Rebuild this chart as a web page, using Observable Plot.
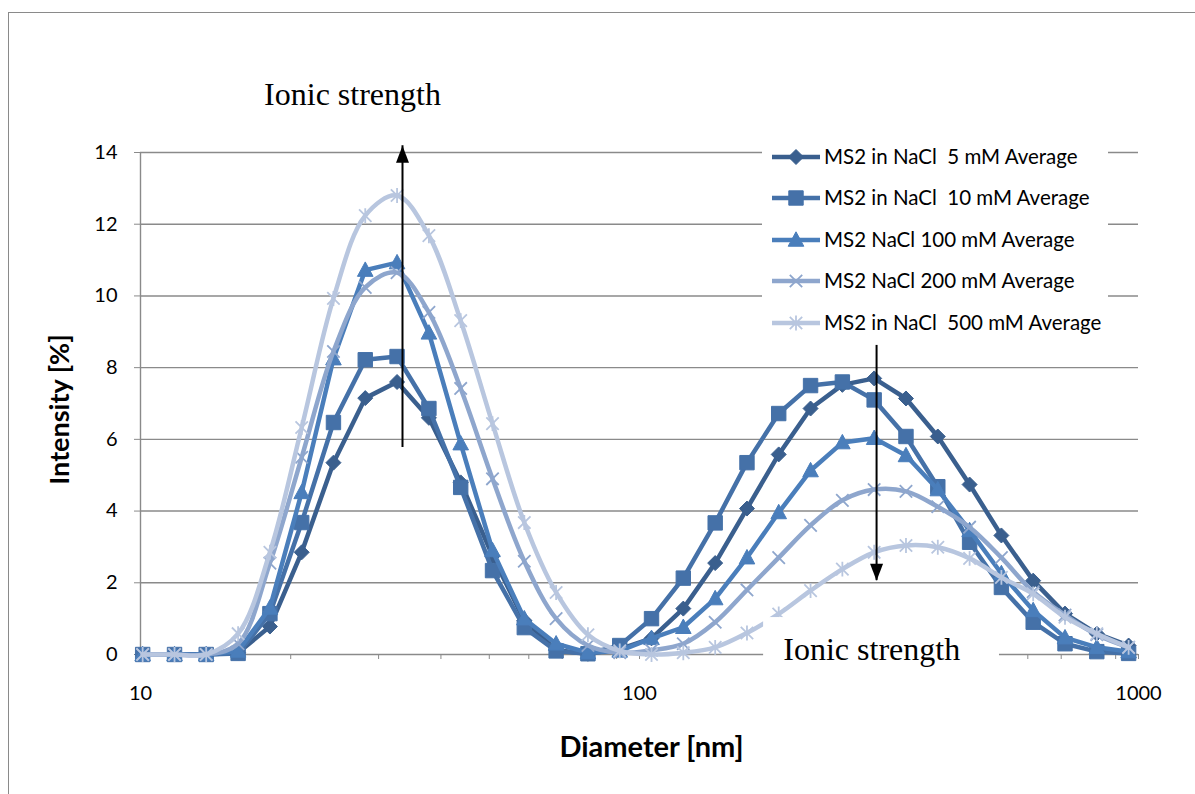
<!DOCTYPE html>
<html>
<head>
<meta charset="utf-8">
<script src="https://cdn.jsdelivr.net/npm/d3@7"></script>
<script src="https://cdn.jsdelivr.net/npm/@observablehq/plot@0.6"></script>
<style>
  body { margin: 0; background: #fff; overflow: hidden; }
  #wrap { position: relative; width: 1195px; height: 794px; overflow: hidden; font-family: Lato, sans-serif; }
  #wrap > svg { position: absolute; left: 0; top: 0; }
  #frame { position: absolute; left: 8px; top: 12px; width: 1300px; height: 900px; border: 1.5px solid #8a8a8a; box-sizing: border-box; pointer-events: none; }
  #legend { position: absolute; left: 762px; top: 138px; width: 346px; height: 206px; background: #fff; }
</style>
</head>
<body>
<div id="wrap"></div>
<script>
// DLS size classes (nm) and averaged intensity distributions (%)
const diameters = [10.1, 11.7, 13.54, 15.69, 18.17, 21.04, 24.36, 28.21, 32.67, 37.84, 43.82, 50.75,
  58.77, 68.06, 78.82, 91.28, 105.7, 122.4, 141.8, 164.2, 190.1, 220.2, 255.0, 295.3, 342.0,
  396.1, 458.7, 531.2, 615.1, 712.4, 825.0, 955.4];

const nacl5 = [0, 0, 0, 0.05, 0.78, 2.85, 5.35, 7.15, 7.6, 6.6, 4.8, 2.75, 0.95, 0.12, 0.02, 0.15,
  0.45, 1.28, 2.55, 4.07, 5.58, 6.86, 7.52, 7.7, 7.14, 6.08, 4.74, 3.32, 2.06, 1.14, 0.58, 0.25];
const nacl10 = [0, 0, 0, 0.03, 1.14, 3.68, 6.47, 8.22, 8.31, 6.86, 4.66, 2.34, 0.75, 0.1, 0.02, 0.25,
  1.0, 2.13, 3.67, 5.35, 6.72, 7.5, 7.6, 7.1, 6.08, 4.68, 3.13, 1.87, 0.9, 0.3, 0.08, 0.03];
const nacl100 = [0, 0, 0, 0.1, 1.3, 4.52, 8.25, 10.72, 10.93, 8.97, 5.88, 2.9, 1.0, 0.3, 0.05, 0.1,
  0.45, 0.76, 1.56, 2.7, 3.96, 5.13, 5.91, 6.03, 5.55, 4.6, 3.46, 2.26, 1.23, 0.47, 0.2, 0.08];
const nacl200 = [0, 0, 0, 0.3, 2.55, 5.5, 8.45, 10.24, 10.65, 9.54, 7.42, 4.9, 2.6, 1.0, 0.25, 0.05,
  0.12, 0.3, 0.9, 1.8, 2.7, 3.6, 4.3, 4.6, 4.55, 4.12, 3.55, 2.7, 1.75, 1.1, 0.55, 0.2];
const nacl500 = [0, 0, 0, 0.58, 2.85, 6.33, 9.93, 12.24, 12.8, 11.68, 9.31, 6.44, 3.68, 1.73, 0.55, 0.1,
  0.0, 0.05, 0.2, 0.6, 1.13, 1.78, 2.38, 2.85, 3.04, 2.99, 2.68, 2.15, 1.69, 1.04, 0.58, 0.2];

const seriesNames = [
  "MS2 in NaCl\u00a0 5 mM Average",
  "MS2 in NaCl\u00a0 10 mM Average",
  "MS2 NaCl 100 mM Average",
  "MS2 NaCl 200 mM Average",
  "MS2 in NaCl\u00a0 500 mM Average"
];
const seriesColors = ["#3a5f8e", "#4571a8", "#4a7ebb", "#8ea6cd", "#b8c6df"];

const yTicks = [0, 2, 4, 6, 8, 10, 12, 14];
const xLabels = [10, 100, 1000];
const xMinorTicks = [10, 20, 30, 40, 50, 60, 70, 80, 90, 100, 200, 300, 400, 500, 600, 700, 800, 900, 1000];

// annotation arrows (data units) and their captions
const arrows = [
  {x: 33.5, from: 5.77, to: 14.19, dir: "up"},
  {x: 298.6, from: 8.62, to: 2.06, dir: "down"}
];
const captions = [
  {x: 26.6, y: 15.62, label: "Ionic strength"},
  {x: 292, y: 0.14, label: "Ionic strength"}
];
const captionBox = {x1: 177.3, x2: 526.5, y1: 1.03, y2: -1.0};

// marker shapes (size arrives as pi*r^2 from Plot.dot)
const rad = size => Math.sqrt(size / Math.PI);
const symDiamond = {draw(c, s) { const r = rad(s); c.moveTo(0, -r); c.lineTo(r, 0); c.lineTo(0, r); c.lineTo(-r, 0); c.closePath(); }};
const symSquare = {draw(c, s) { const r = rad(s); c.rect(-r, -r, 2 * r, 2 * r); }};
const symTriangle = {draw(c, s) { const r = rad(s); c.moveTo(0, -r * 1.05); c.lineTo(r, r * 0.8); c.lineTo(-r, r * 0.8); c.closePath(); }};
const symTimes = {draw(c, s) { const r = rad(s); c.moveTo(-r, -r); c.lineTo(r, r); c.moveTo(r, -r); c.lineTo(-r, r); }};
const symStar = {draw(c, s) { const r = rad(s); c.moveTo(-r, -r); c.lineTo(r, r); c.moveTo(r, -r); c.lineTo(-r, r); c.moveTo(0, -r * 1.2); c.lineTo(0, r * 1.2); }};
const headUp = {draw(c) { c.moveTo(0, 0); c.lineTo(-6.5, 17); c.lineTo(6.5, 17); c.closePath(); }};
const headDown = {draw(c) { c.moveTo(0, 0); c.lineTo(-6.5, -17); c.lineTo(6.5, -17); c.closePath(); }};

const markerSpec = [
  {symbol: symDiamond, r: 7.5, filled: true},
  {symbol: symSquare, r: 7.2, filled: true},
  {symbol: symTriangle, r: 7.8, filled: true},
  {symbol: symTimes, r: 6.2, filled: false},
  {symbol: symStar, r: 6.2, filled: false}
];
const curves = ["linear", "linear", "linear", "catmull-rom", "catmull-rom"];

const allValues = [nacl5, nacl10, nacl100, nacl200, nacl500];
const series = allValues.map((vals, i) => vals.map((v, j) => ({d: diameters[j], v, s: seriesNames[i]})));

const grid = "#8a8a8a";
const seriesMarks = series.flatMap((rows, i) => {
  const m = markerSpec[i];
  return [
    Plot.line(rows, {x: "d", y: "v", stroke: seriesColors[i], strokeWidth: 4.5, curve: curves[i], strokeLinejoin: "round"}),
    Plot.dot(rows, {
      x: "d", y: "v", symbol: m.symbol, r: m.r,
      fill: m.filled ? seriesColors[i] : "none",
      stroke: seriesColors[i], strokeWidth: m.filled ? 1 : 1.8
    })
  ];
});

const chart = Plot.plot({
  width: 1195,
  height: 794,
  marginLeft: 140,
  marginRight: 57,
  marginTop: 152,
  marginBottom: 140,
  style: {fontFamily: "Lato, sans-serif", fontSize: "20px", background: "transparent", color: "black"},
  x: {type: "log", domain: [10, 1000]},
  y: {domain: [0, 14]},
  marks: [
    Plot.gridY(yTicks.filter(t => t > 0), {stroke: grid, strokeOpacity: 1, strokeWidth: 1.4}),
    Plot.ruleY([0], {stroke: grid, strokeWidth: 1.4}),
    Plot.ruleX([10], {stroke: grid, strokeWidth: 1.4}),
    Plot.axisY({ticks: yTicks, tickSize: 6, tickPadding: 17, stroke: grid, fill: "black", label: null, fontSize: 20}),
    Plot.axisX({ticks: xMinorTicks, tickSize: 5, tickFormat: () => "", stroke: grid, label: null}),
    Plot.axisX({ticks: xLabels, tickSize: 0, tickPadding: 31, tickFormat: d => String(d), fill: "black", label: null, fontSize: 20}),
    Plot.text(["Intensity [%]"], {frameAnchor: "left", dx: -80, dy: 6, rotate: -90, textAnchor: "middle", lineAnchor: "middle", fontWeight: "bold", fontSize: 27, fill: "black"}),
    Plot.text(["Diameter [nm]"], {frameAnchor: "bottom", dx: 12, dy: 93, textAnchor: "middle", lineAnchor: "middle", fontWeight: "bold", fontSize: 29, fill: "black"}),
    ...seriesMarks,
    Plot.rect([captionBox], {x1: "x1", x2: "x2", y1: "y1", y2: "y2", fill: "white"}),
    Plot.text(captions, {x: "x", y: "y", text: "label", fontFamily: "'Liberation Serif', 'Times New Roman', serif", fontSize: 32, fill: "black"}),
    Plot.ruleX(arrows, {x: "x", y1: "from", y2: "to", stroke: "black", strokeWidth: 2}),
    Plot.dot(arrows.filter(a => a.dir === "up"), {x: "x", y: "to", symbol: headUp, fill: "black", stroke: "none", r: 5}),
    Plot.dot(arrows.filter(a => a.dir === "down"), {x: "x", y: "to", symbol: headDown, fill: "black", stroke: "none", r: 5})
  ]
});

const wrap = document.getElementById("wrap");
wrap.appendChild(chart);

// legend panel
const legend = document.createElement("div");
legend.id = "legend";
wrap.appendChild(legend);
const lsvg = d3.select(legend).append("svg").attr("width", 346).attr("height", 206);
const rowY = [19, 60, 102, 143, 185];
seriesNames.forEach((name, i) => {
  const g = lsvg.append("g").attr("transform", `translate(0,${rowY[i]})`);
  g.append("line").attr("x1", 10).attr("x2", 58).attr("y1", 0).attr("y2", 0)
    .attr("stroke", seriesColors[i]).attr("stroke-width", 4.5);
  const m = markerSpec[i];
  g.append("path").attr("transform", "translate(34,0)")
    .attr("d", d3.symbol(m.symbol, Math.PI * m.r * m.r)())
    .attr("fill", m.filled ? seriesColors[i] : "none")
    .attr("stroke", seriesColors[i]).attr("stroke-width", m.filled ? 1 : 1.8);
  g.append("text").attr("x", 62).attr("y", 0).attr("dy", "0.35em")
    .attr("font-family", "Lato, sans-serif").attr("font-size", 20.5).attr("fill", "black")
    .text(name);
});

const frame = document.createElement("div");
frame.id = "frame";
wrap.appendChild(frame);
</script>
</body>
</html>
